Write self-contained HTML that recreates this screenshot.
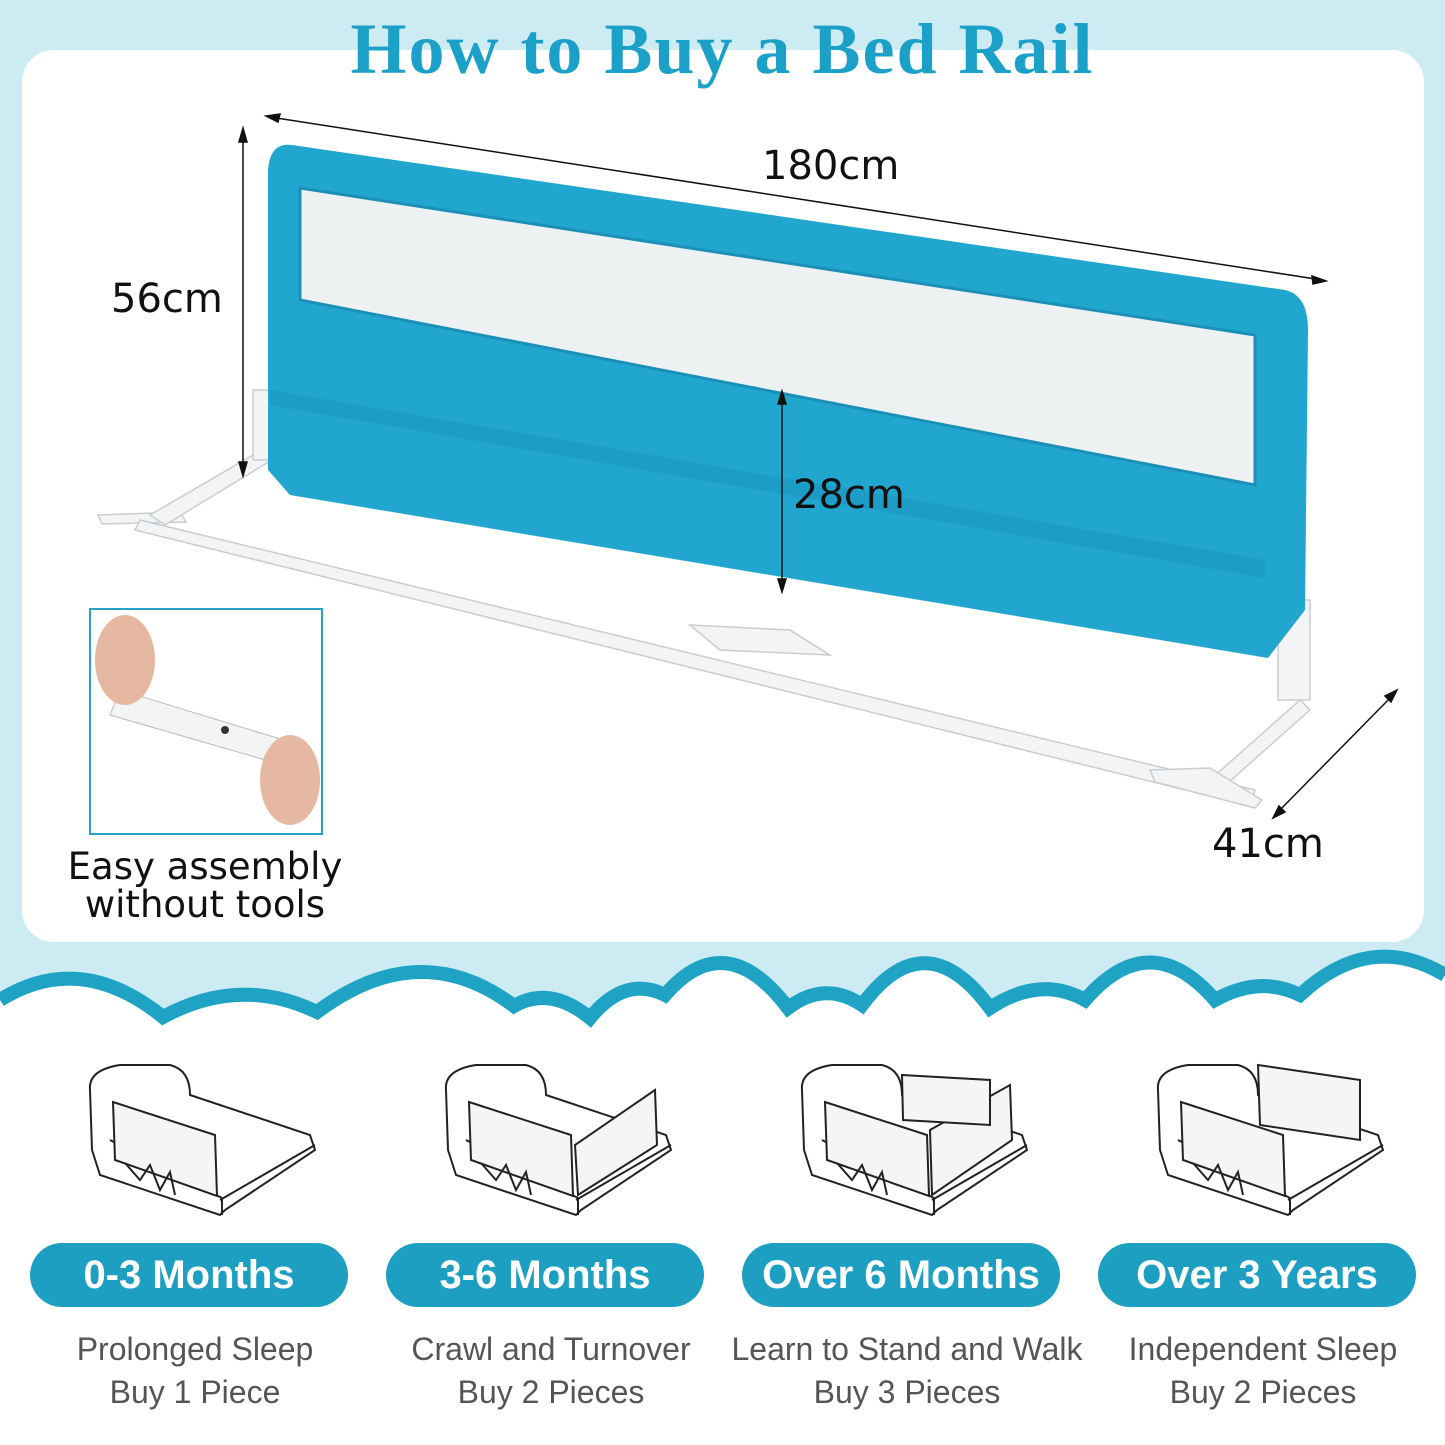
<!DOCTYPE html>
<html><head><meta charset="utf-8"><style>
html,body{margin:0;padding:0;}
body{width:1445px;height:1445px;position:relative;overflow:hidden;background:#fff;font-family:"Liberation Sans",sans-serif;}
.abs{position:absolute;}
.pill{position:absolute;top:1243px;width:318px;height:64px;border-radius:32px;background:#1c9fc1;color:#fff;font-family:"Liberation Sans Narrow","Liberation Sans",sans-serif;font-weight:bold;font-size:40px;line-height:64px;text-align:center;}
.cap{position:absolute;top:1328px;width:380px;text-align:center;color:#555;font-size:32px;line-height:43px;}
.lbl{position:absolute;font-family:"DejaVu Sans","Liberation Sans",sans-serif;font-size:40px;color:#111;}
</style></head><body>
<svg class="abs" style="left:0;top:0" width="1445" height="1445" viewBox="0 0 1445 1445">
<rect x="0" y="0" width="1445" height="1020" fill="#cdebf3"/>
<rect x="22" y="50" width="1402" height="892" rx="32" fill="#fff"/>
<path d="M0,1000 Q80,950 163,1017 Q240,975 317,1012 Q420,935 514,1006 Q550,985 590,1018 Q625,975 665,995 Q725,925 788,1008 Q825,980 862,1005 Q925,920 990,1008 Q1040,975 1085,1000 Q1150,925 1215,1000 Q1260,975 1300,995 Q1370,930 1445,975 L1445,1445 L0,1445 Z" fill="#fff"/>
<path d="M0,1000 Q80,950 163,1017 Q240,975 317,1012 Q420,935 514,1006 Q550,985 590,1018 Q625,975 665,995 Q725,925 788,1008 Q825,980 862,1005 Q925,920 990,1008 Q1040,975 1085,1000 Q1150,925 1215,1000 Q1260,975 1300,995 Q1370,930 1445,975" fill="none" stroke="#1ea3c5" stroke-width="14" stroke-linejoin="miter"/>
<g fill="#f2f4f5" stroke="#c9cdd0" stroke-width="1.5">
<polygon points="98,515 180,512 186,522 102,524"/>
<polygon points="140,520 1255,790 1250,806 135,530"/>
<polygon points="150,515 270,445 280,455 165,525"/>
<polygon points="1210,780 1300,700 1310,710 1220,790"/>
<polygon points="1150,770 1210,768 1262,800 1255,808 1155,782"/>
<polygon points="690,625 790,630 830,655 720,650"/>
<rect x="253" y="390" width="30" height="70"/>
<rect x="1278" y="600" width="32" height="100"/>
</g>
<path d="M292,145 L1285,290 Q1308,295 1308,330 L1305,610 L1268,658 L290,495 L268,470 L268,170 Q270,142 292,145 Z" fill="#21a6cf"/>
<path d="M270,390 L1265,560 L1265,578 L270,405 Z" fill="#1b97c0" opacity="0.6"/>
<polygon points="300,188 1255,335 1255,485 300,300" fill="#eef1f2" stroke="#1a90b8" stroke-width="3"/>
<g stroke="#111" stroke-width="1.5" fill="#111">
<line x1="270" y1="117" x2="1322" y2="280"/>
<polygon points="266,116 280,114 278,122"/>
<polygon points="1326,281 1312,276 1313,284"/>
<line x1="243" y1="132" x2="243" y2="472"/>
<polygon points="243,128 239,142 247,142"/>
<polygon points="243,476 239,462 247,462"/>
<line x1="782" y1="395" x2="782" y2="588"/>
<polygon points="782,391 778,404 786,404"/>
<polygon points="782,592 778,579 786,579"/>
<line x1="1275" y1="815" x2="1395" y2="693"/>
<polygon points="1397,690 1385,696 1391,702"/>
<polygon points="1273,818 1279,806 1285,812"/>
</g>
<rect x="90" y="609" width="232" height="225" fill="#fff" stroke="#2aa2c6" stroke-width="2"/>
<polygon points="120,690 300,745 300,770 110,715" fill="#f4f4f4" stroke="#bbb"/>
<ellipse cx="125" cy="660" rx="30" ry="45" fill="#e6b8a2"/>
<ellipse cx="290" cy="780" rx="30" ry="45" fill="#e6b8a2"/>
<circle cx="225" cy="730" r="4" fill="#333"/>
<g fill="none" stroke="#222" stroke-width="2">
<g id="bed">
<path d="M90,1090 Q88,1070 120,1065 L170,1065 Q190,1070 190,1095 L310,1135 L315,1150 L225,1210 L220,1215 L100,1175 L92,1150 Z"/>
<path d="M220,1200 L315,1145 M222,1215 L222,1198 M110,1140 L222,1198"/>
<polygon points="113,1102 215,1135 217,1196 115,1160" fill="#f5f5f5"/>
<path d="M125,1163 L140,1180 L150,1165 L160,1190 L170,1172 L175,1195"/>
</g>
<use href="#bed" transform="translate(356,0)"/>
<use href="#bed" transform="translate(712,0)"/>
<use href="#bed" transform="translate(1068,0)"/>
</g>
<g fill="#f5f5f5" stroke="#222" stroke-width="2">
<polygon points="575,1145 655,1090 657,1145 578,1195"/>
<polygon points="930,1130 1010,1085 1012,1140 932,1195"/>
<polygon points="902,1075 990,1080 990,1125 903,1120"/>
<polygon points="1258,1065 1360,1080 1360,1140 1260,1125"/>
</g>
</svg>
<div class="abs" style="left:0;top:8px;width:1445px;text-align:center;color:#1ba0c8;font-family:'Liberation Serif',serif;font-weight:bold;font-size:72px;letter-spacing:2px;">How to Buy a Bed Rail</div>
<div class="lbl" style="left:762px;top:143px;">180cm</div>
<div class="lbl" style="left:111px;top:276px;">56cm</div>
<div class="lbl" style="left:793px;top:472px;">28cm</div>
<div class="lbl" style="left:1212px;top:821px;">41cm</div>
<div class="abs" style="left:40px;top:848px;width:330px;text-align:center;font-family:'DejaVu Sans',sans-serif;font-size:37px;line-height:38px;color:#111;">Easy assembly<br>without tools</div>
<div class="pill" style="left:30px">0-3 Months</div>
<div class="pill" style="left:386px">3-6 Months</div>
<div class="pill" style="left:742px">Over 6 Months</div>
<div class="pill" style="left:1098px">Over 3 Years</div>
<div class="cap" style="left:5px">Prolonged Sleep<br>Buy 1 Piece</div>
<div class="cap" style="left:361px">Crawl and Turnover<br>Buy 2 Pieces</div>
<div class="cap" style="left:717px">Learn to Stand and Walk<br>Buy 3 Pieces</div>
<div class="cap" style="left:1073px">Independent Sleep<br>Buy 2 Pieces</div>
</body></html>
